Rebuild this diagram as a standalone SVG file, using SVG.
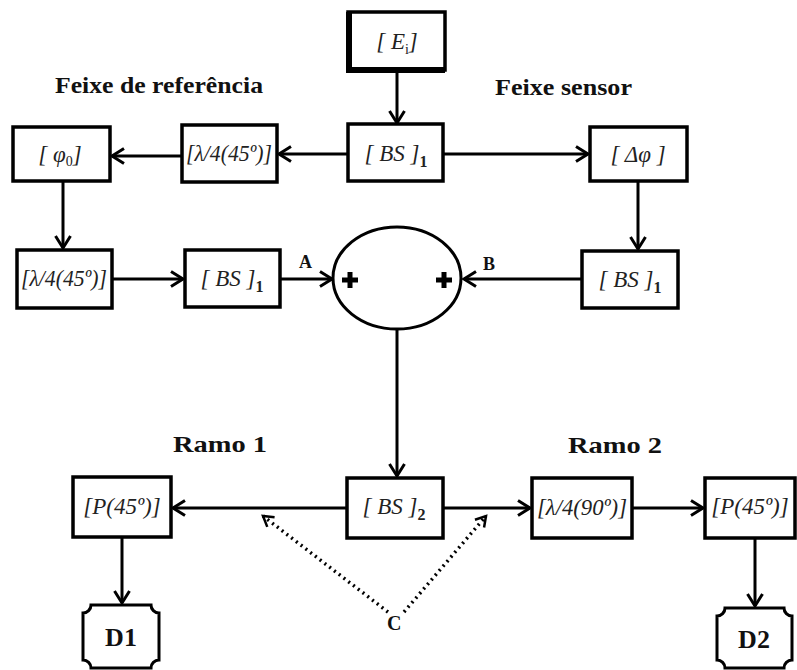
<svg xmlns="http://www.w3.org/2000/svg" width="797" height="670" viewBox="0 0 797 670">
<style>
.box{fill:#fff;stroke:#000;stroke-width:3.5}
.lbl{font-family:"Liberation Serif",serif;font-style:italic;font-size:23px;fill:#222;text-anchor:middle}
.sub{font-style:normal;font-weight:bold;font-size:16px}
.subn{font-style:normal;font-size:14px}
.ttl{font-family:"Liberation Serif",serif;font-weight:bold;font-size:24px;fill:#111}
.ab{font-family:"Liberation Serif",serif;font-weight:bold;font-size:18px;fill:#111}
.det{font-family:"Liberation Serif",serif;font-weight:bold;font-size:26px;fill:#111;text-anchor:middle}
.ln{fill:none;stroke:#000;stroke-width:3;marker-end:url(#ah)}
.dot{fill:none;stroke:#000;stroke-width:3.5;stroke-dasharray:2 4;marker-end:url(#ahd)}
</style>
<defs>
<marker id="ah" markerUnits="userSpaceOnUse" markerWidth="20" markerHeight="20" viewBox="-14 -10 16 20" refX="0" refY="0" orient="auto">
<path d="M-12,-7.5 L0,0 L-12,7.5" fill="none" stroke="#000" stroke-width="3"/>
</marker>
<marker id="ahd" markerUnits="userSpaceOnUse" markerWidth="20" markerHeight="20" viewBox="-14 -10 16 20" refX="0" refY="0" orient="auto">
<path d="M-10,-6 L0,0 L-10,6" fill="none" stroke="#000" stroke-width="2.5"/>
</marker>
</defs>

<g id="titles">
<text class="ttl" x="55" y="93" textLength="208" lengthAdjust="spacingAndGlyphs">Feixe de referência</text>
<text class="ttl" x="495" y="95" textLength="137" lengthAdjust="spacingAndGlyphs">Feixe sensor</text>
<text class="ttl" x="173" y="452" textLength="94" lengthAdjust="spacingAndGlyphs">Ramo 1</text>
<text class="ttl" x="568" y="453" textLength="94" lengthAdjust="spacingAndGlyphs">Ramo 2</text>
</g>

<g id="connectors">
<path class="ln" d="M397,70 V123"/>
<path class="ln" d="M348,154 H279"/>
<path class="ln" d="M182,156 H112"/>
<path class="ln" d="M443,154 H588"/>
<path class="ln" d="M63,181 V248"/>
<path class="ln" d="M112,279 H183"/>
<path class="ln" d="M280,279 H332"/>
<path class="ln" d="M582,279 H464"/>
<path class="ln" d="M638,181 V249"/>
<path class="ln" d="M397,329 V476"/>
<path class="ln" d="M347,508 H173"/>
<path class="ln" d="M443,508 H530"/>
<path class="ln" d="M632,508 H703"/>
<path class="ln" d="M122,537 V603"/>
<path class="ln" d="M755,538 V606"/>
<path class="dot" d="M388,612 L263,516"/>
<path class="dot" d="M404,612 L486,516"/>
<text class="ab" x="299" y="268">A</text>
<text class="ab" x="483" y="270">B</text>
<text class="ab" x="387" y="630" style="font-size:20px">C</text>
</g>

<g id="n-ei">
<rect class="box" x="348" y="12" width="97" height="58"/>
<path d="M349,12 V70 H445" fill="none" stroke="#000" stroke-width="6"/>
<text class="lbl" x="397" y="49">[ <tspan>E</tspan><tspan class="subn" dy="5">i</tspan><tspan dy="-5">]</tspan></text>
</g>

<g id="n-bs1-top">
<rect class="box" x="348" y="124" width="95" height="57"/>
<text class="lbl" x="396" y="161">[ BS ]<tspan class="sub" dy="6">1</tspan></text>
</g>

<g id="n-lambda-top">
<rect class="box" x="182" y="125" width="95" height="57"/>
<text class="lbl" x="229" y="161" textLength="86" lengthAdjust="spacingAndGlyphs">[λ/4(45º)]</text>
</g>

<g id="n-phi0">
<rect class="box" x="13" y="127" width="97" height="54"/>
<text class="lbl" x="60" y="162">[ φ<tspan class="subn" dy="4">0</tspan><tspan dy="-4">]</tspan></text>
</g>

<g id="n-dphi">
<rect class="box" x="590" y="127" width="97" height="54"/>
<text class="lbl" x="638" y="162">[ Δφ ]</text>
</g>

<g id="n-lambda-left">
<rect class="box" x="17" y="250" width="95" height="58"/>
<text class="lbl" x="64" y="286" textLength="86" lengthAdjust="spacingAndGlyphs">[λ/4(45º)]</text>
</g>

<g id="n-bs1-left">
<rect class="box" x="185" y="250" width="95" height="57"/>
<text class="lbl" x="232" y="286">[ BS ]<tspan class="sub" dy="6">1</tspan></text>
</g>

<g id="n-bs1-right">
<rect class="box" x="582" y="251" width="96" height="57"/>
<text class="lbl" x="630" y="287">[ BS ]<tspan class="sub" dy="6">1</tspan></text>
</g>

<g id="n-combiner">
<ellipse cx="397" cy="278" rx="64" ry="51" fill="#fff" stroke="#000" stroke-width="3"/>
<path d="M347.5,272 h5 v5.5 h5.5 v5 h-5.5 v5.5 h-5 v-5.5 h-5.5 v-5 h5.5 z" fill="#000"/>
<path d="M441.5,272 h5 v5.5 h5.5 v5 h-5.5 v5.5 h-5 v-5.5 h-5.5 v-5 h5.5 z" fill="#000"/>
</g>

<g id="n-bs2">
<rect class="box" x="347" y="478" width="96" height="60"/>
<text class="lbl" x="394" y="514">[ BS ]<tspan class="sub" dy="6">2</tspan></text>
</g>

<g id="n-p1">
<rect class="box" x="73" y="477" width="98" height="60"/>
<text class="lbl" x="122" y="514">[P(45º)]</text>
</g>

<g id="n-lambda90">
<rect class="box" x="532" y="478" width="100" height="60"/>
<text class="lbl" x="582" y="515" textLength="90" lengthAdjust="spacingAndGlyphs">[λ/4(90º)]</text>
</g>

<g id="n-p2">
<rect class="box" x="705" y="478" width="90" height="60"/>
<text class="lbl" x="750" y="514">[P(45º)]</text>
</g>

<g id="n-d1">
<path d="M91,605 H151 A8,8 0 0 0 159,613 V660 A8,8 0 0 0 151,668 H91 A8,8 0 0 0 83,660 V613 A8,8 0 0 0 91,605 Z" fill="#fff" stroke="#000" stroke-width="3"/>
<text class="det" x="121" y="646">D1</text>
</g>

<g id="n-d2">
<path d="M725,608 H784 A8,8 0 0 0 792,616 V660 A8,8 0 0 0 784,668 H725 A8,8 0 0 0 717,660 V616 A8,8 0 0 0 725,608 Z" fill="#fff" stroke="#000" stroke-width="3"/>
<text class="det" x="754" y="648">D2</text>
</g>
</svg>
